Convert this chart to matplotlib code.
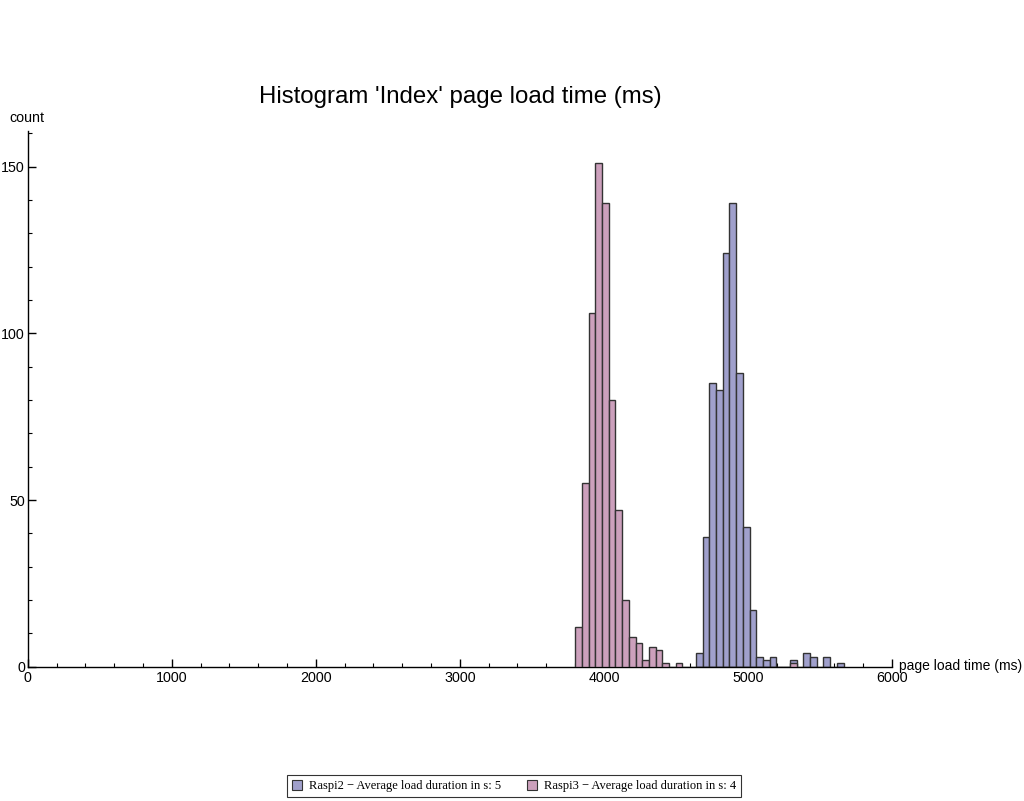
import numpy as np
import matplotlib
matplotlib.use("Agg")
import matplotlib.pyplot as plt
from matplotlib.patches import Patch
from matplotlib.ticker import MultipleLocator

# ---- data ----
bin_start = 3800.0      # ms, left edge of first bin
bin_width = 46.6        # ms
raspi3_counts = [12, 55, 106, 151, 139, 80, 47, 20, 9, 7, 2, 6, 5, 1, 0, 1,
                 0, 0, 0, 0, 0, 0, 0, 0, 0, 0, 0, 0, 0, 0, 0, 0, 1]
raspi2_offset = 18      # index of first Raspi2 bin
raspi2_counts = [4, 39, 85, 83, 124, 139, 88, 42, 17, 3, 2, 3, 0, 0, 2, 0,
                 4, 3, 0, 3, 0, 1]
series_labels = ["Raspi2 \u2212 Average load duration in s: 5",
                 "Raspi3 \u2212 Average load duration in s: 4"]
title = "Histogram 'Index' page load time (ms)"
xlabel = "page load time (ms)"
ylabel = "count"
x_ticks = [0, 1000, 2000, 3000, 4000, 5000, 6000]
y_ticks = [0, 50, 100, 150]

blue = "#A0A0CC"
pink = "#CCA0BC"
edge = "#333333"

plt.rcParams['font.family'] = ['Liberation Sans', 'DejaVu Sans']

W, H = 1024, 801
fig = plt.figure(figsize=(W / 100, H / 100), dpi=100)
x0, x1 = 27.7, 892.0
y_top, y_bot = 131.0, 666.7
ax = fig.add_axes([x0 / W, 1 - y_bot / H, (x1 - x0) / W, (y_bot - y_top) / H])

edges3 = bin_start + bin_width * np.arange(len(raspi3_counts))
edges2 = bin_start + bin_width * (raspi2_offset + np.arange(len(raspi2_counts)))

ax.bar(edges2, raspi2_counts, width=bin_width, align='edge', color=blue,
       edgecolor=edge, linewidth=1.0, zorder=2)
ax.bar(edges3, raspi3_counts, width=bin_width, align='edge', color=pink,
       edgecolor=edge, linewidth=1.0, zorder=3)

ax.set_xlim(0, 6000)
ax.set_ylim(0, 160.7)

for s in ['top', 'right']:
    ax.spines[s].set_visible(False)
for s in ['left', 'bottom']:
    ax.spines[s].set_linewidth(1.0)
    ax.spines[s].set_color('black')

ax.set_xticks(x_ticks)
ax.set_yticks(y_ticks)
ax.xaxis.set_minor_locator(MultipleLocator(200))
ax.yaxis.set_minor_locator(MultipleLocator(10))
ax.tick_params(axis='both', which='major', direction='in', length=6, width=1,
               labelsize=10.3, colors='black')
ax.tick_params(axis='both', which='minor', direction='in', length=3, width=0.8)
ax.tick_params(axis='x', pad=3)
ax.tick_params(axis='y', pad=2)

fig.text(899 / W, 1 - 666 / H, xlabel, ha='left', va='center', fontsize=10)
fig.text(27 / W, 1 - 118 / H, ylabel, ha='center', va='center', fontsize=10.3)
fig.text(460 / W, 1 - 97 / H, title, ha='center', va='center', fontsize=17.3)

handles = [Patch(facecolor=blue, edgecolor=edge, linewidth=0.8),
           Patch(facecolor=pink, edgecolor=edge, linewidth=0.8)]
leg = fig.legend(handles, series_labels, loc='center', ncol=2,
                 bbox_to_anchor=(514 / W, 1 - 786 / H),
                 prop={'family': 'Liberation Serif', 'size': 9},
                 frameon=True, fancybox=False, handlelength=0.8, handleheight=0.8,
                 handletextpad=0.6, columnspacing=2.0, borderpad=0.4)
leg.get_frame().set_edgecolor('black')
leg.get_frame().set_linewidth(0.8)

fig.savefig("out.png", dpi=100)
